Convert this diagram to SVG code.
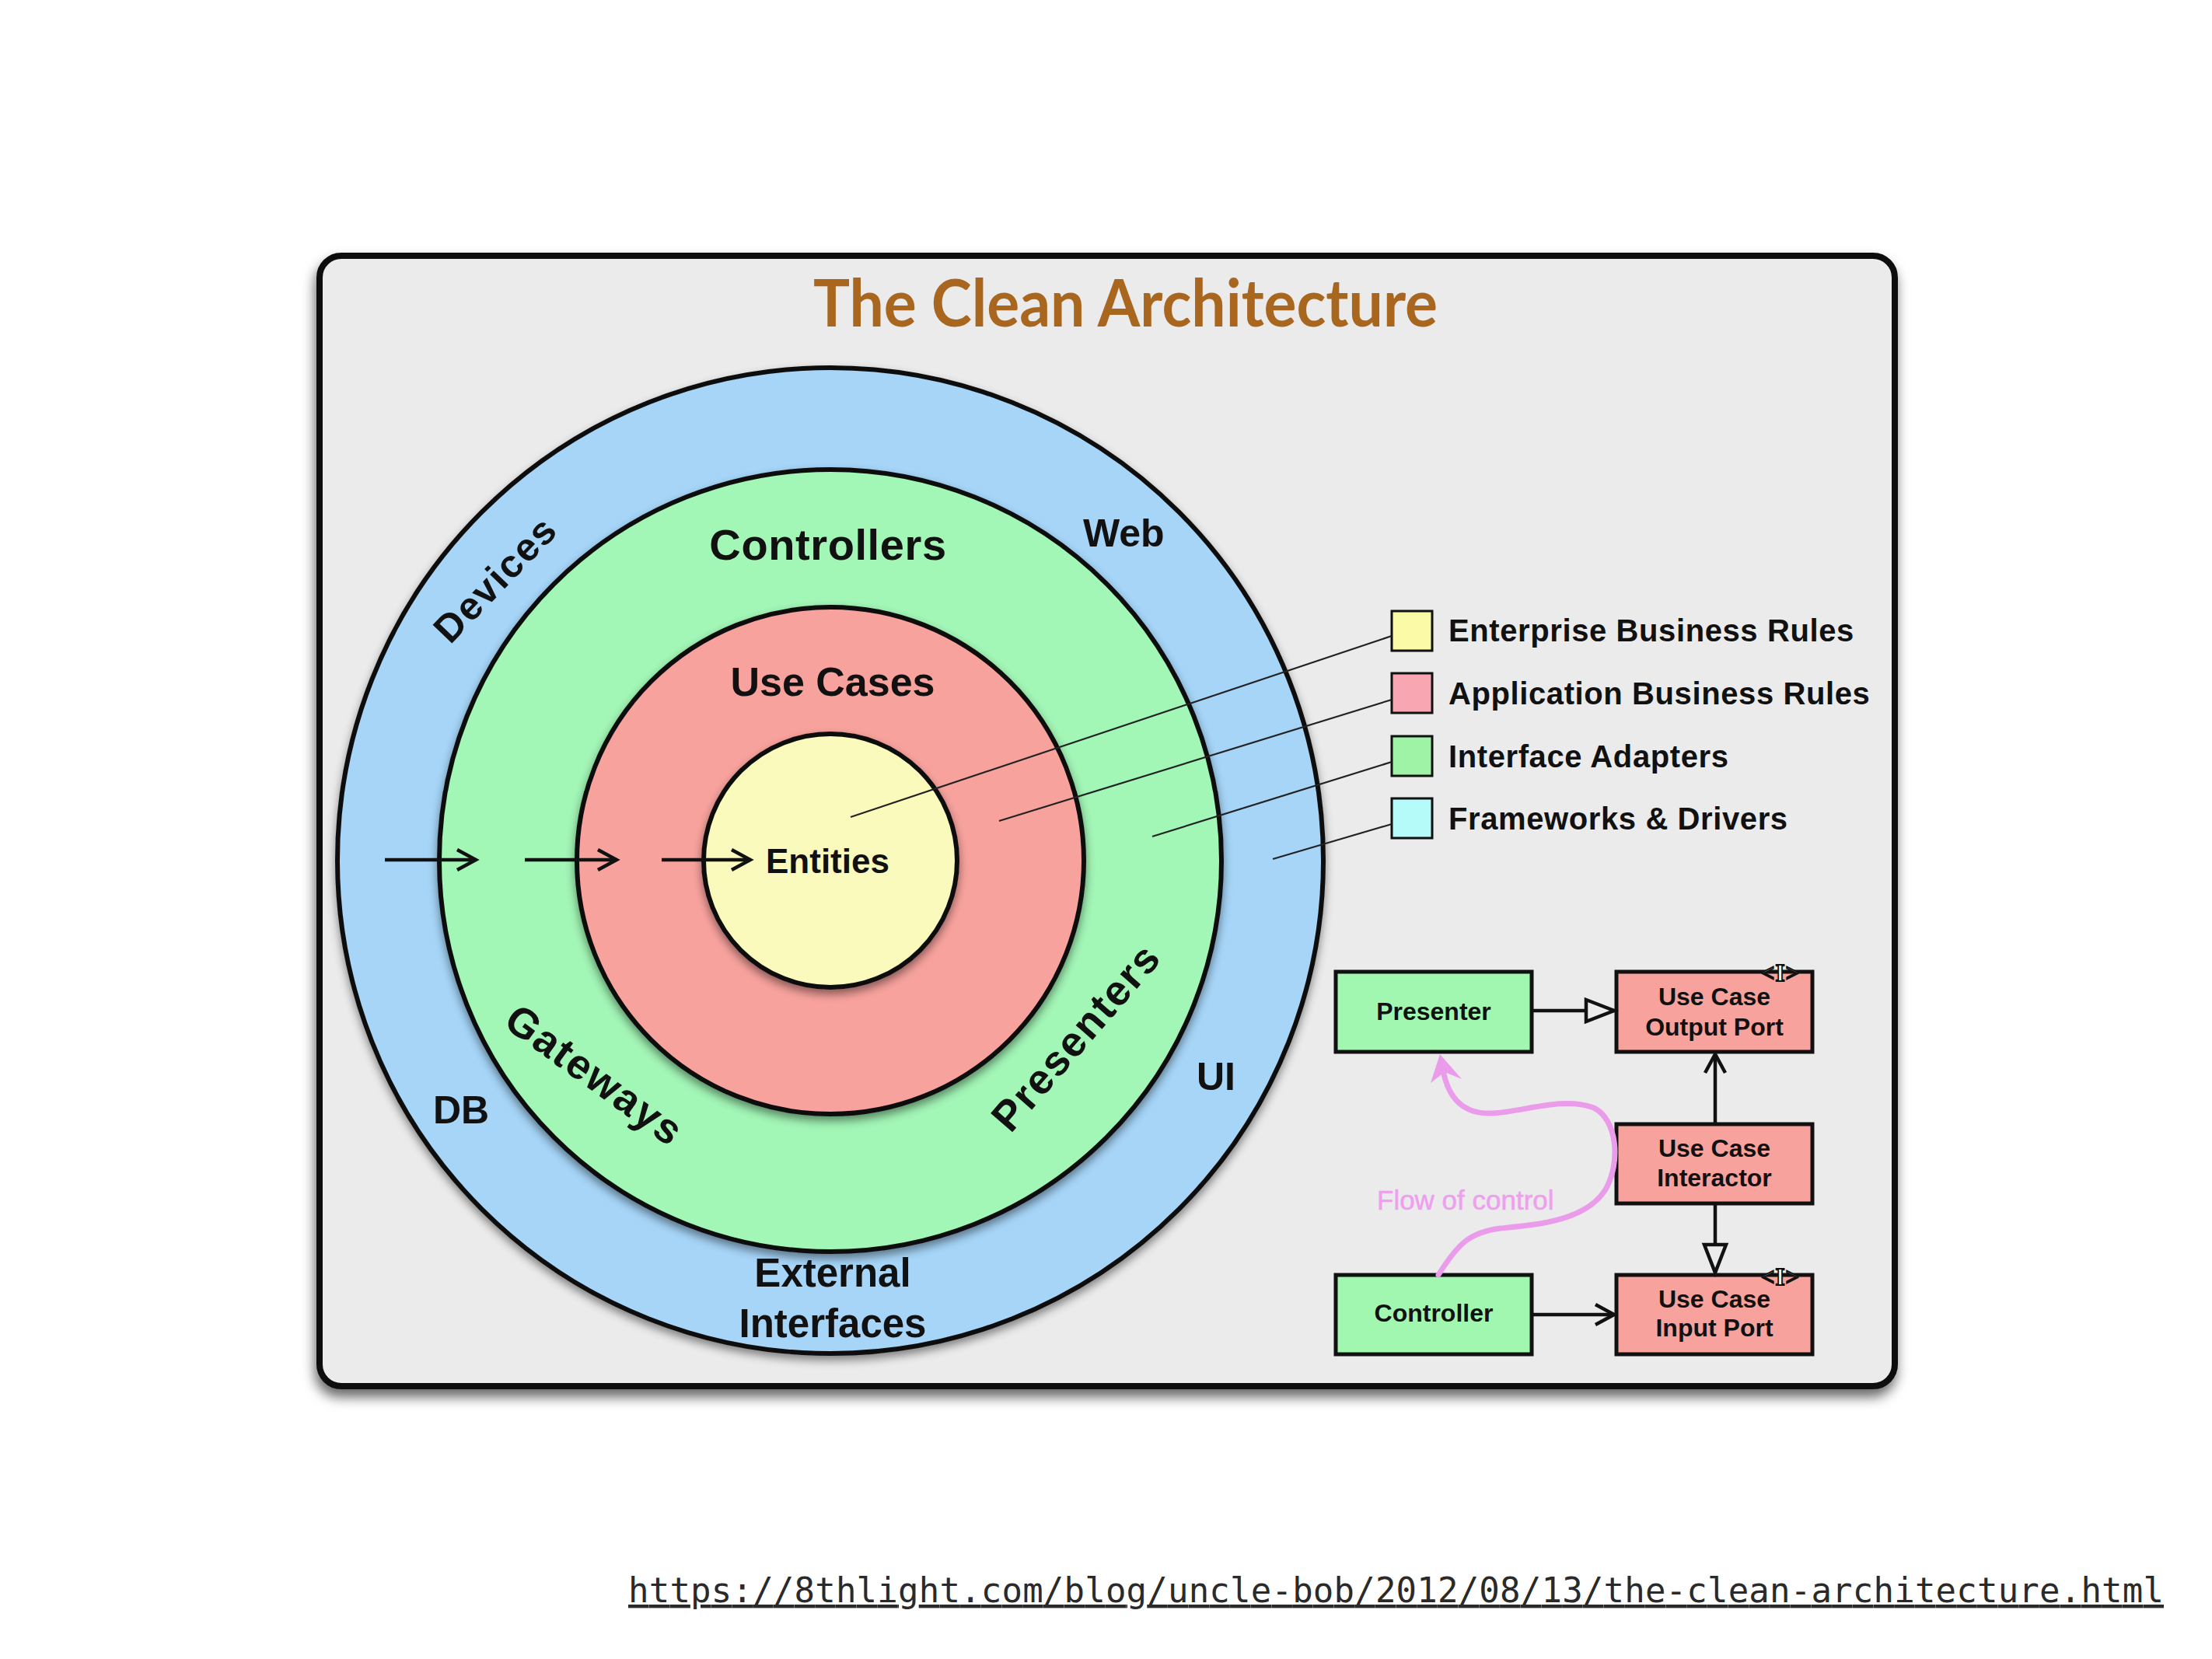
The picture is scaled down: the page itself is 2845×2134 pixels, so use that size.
<svg xmlns="http://www.w3.org/2000/svg" width="2845" height="2134" viewBox="0 0 2845 2134">
<defs>
<style>
.lbl{font-family:"Liberation Sans",Arial,Helvetica,sans-serif;font-weight:bold;fill:#111;}
.ring{font-size:50px;}
.leg{font-size:40px;letter-spacing:0.6px;}
.uml{font-size:32px;text-anchor:middle;}
.circ{stroke:#111;stroke-width:6;filter:url(#sh);}
.box{stroke:#111;stroke-width:5;}
.conn{stroke:#111;stroke-width:4.5;fill:none;}
.lead{stroke:#222;stroke-width:2.2;fill:none;}
.lbox{stroke:#111;stroke-width:3;}
.iface{font-family:"Liberation Serif","Times New Roman",serif;font-weight:bold;font-size:31px;letter-spacing:1px;fill:#fff;stroke:#111;stroke-width:1.8;text-anchor:middle;}
</style>
<filter id="sh" x="-10%" y="-10%" width="120%" height="125%">
<feDropShadow dx="0" dy="6" stdDeviation="6" flood-color="#000" flood-opacity="0.45"/>
</filter>
<filter id="fsh" x="-5%" y="-5%" width="110%" height="112%">
<feDropShadow dx="-2" dy="10" stdDeviation="8" flood-color="#000" flood-opacity="0.6"/>
</filter>
<marker id="openV" markerUnits="userSpaceOnUse" markerWidth="40" markerHeight="40" viewBox="-30 -20 40 40" refX="0" refY="0" orient="auto" overflow="visible">
<path d="M-24,-13 L0,0 L-24,13" fill="none" stroke="#111" stroke-width="4.5"/>
</marker>
<marker id="tri" markerUnits="userSpaceOnUse" markerWidth="46" markerHeight="40" viewBox="-40 -20 46 40" refX="0" refY="0" orient="auto" overflow="visible">
<path d="M-36,-14 L0,0 L-36,14 Z" fill="#ebebeb" stroke="#111" stroke-width="4.5"/>
</marker>
</defs>

<rect x="0" y="0" width="2845" height="2134" fill="#ffffff"/>

<g id="frame">
<rect x="411" y="329" width="2026" height="1454" rx="28" fill="#ebebeb" stroke="#0a0a0a" stroke-width="8" filter="url(#fsh)"/>
<text x="1046" y="420" font-family="Lato,'Open Sans',sans-serif" font-weight="bold" font-size="84" fill="#a9661f" textLength="803" lengthAdjust="spacingAndGlyphs">The Clean Architecture</text>
</g>

<g id="ring-frameworks">
<circle cx="1068" cy="1107" r="634" fill="#a6d5f8" class="circ"/>
<text class="lbl ring" transform="translate(636.5,744.5) rotate(-46)" x="0" y="18" text-anchor="middle" letter-spacing="2">Devices</text>
<text class="lbl ring" x="1393" y="703">Web</text>
<text class="lbl ring" x="1539" y="1402">UI</text>
<text class="lbl ring" x="557" y="1445">DB</text>
<text class="lbl" font-size="51" x="1071" y="1655" text-anchor="middle">External</text>
<text class="lbl" font-size="51" x="1071" y="1720" text-anchor="middle">Interfaces</text>
</g>

<g id="ring-adapters">
<circle cx="1068" cy="1107" r="503" fill="#a2f6b6" class="circ"/>
<text class="lbl" font-size="56" x="1065" y="720" text-anchor="middle" letter-spacing="0.6">Controllers</text>
<text class="lbl" font-size="54" transform="translate(764,1384) rotate(36)" x="0" y="17" text-anchor="middle" letter-spacing="2">Gateways</text>
<text class="lbl" font-size="54" transform="translate(1385,1335) rotate(-49)" x="0" y="17" text-anchor="middle" letter-spacing="2">Presenters</text>
</g>

<g id="ring-usecases">
<circle cx="1068" cy="1107" r="326" fill="#f8a29d" class="circ"/>
<text class="lbl" font-size="52" x="1071" y="895" text-anchor="middle">Use Cases</text>
</g>

<g id="ring-entities">
<circle cx="1068" cy="1107" r="163" fill="#fbfabd" class="circ"/>
<text class="lbl" font-size="44" x="985" y="1123">Entities</text>
</g>

<g id="legend">
<g id="legend-enterprise">
<rect class="lbox" x="1790" y="786" width="52" height="51" fill="#fbfaa6"/>
<text class="lbl leg" x="1863" y="825">Enterprise Business Rules</text>
</g>
<g id="legend-application">
<rect class="lbox" x="1790" y="866" width="52" height="51" fill="#f9a6b3"/>
<text class="lbl leg" x="1863" y="906">Application Business Rules</text>
</g>
<g id="legend-adapters">
<rect class="lbox" x="1790" y="947" width="52" height="51" fill="#9ff3a6"/>
<text class="lbl leg" x="1863" y="987">Interface Adapters</text>
</g>
<g id="legend-frameworks">
<rect class="lbox" x="1790" y="1027" width="52" height="51" fill="#b4fbfa"/>
<text class="lbl leg" x="1863" y="1067">Frameworks &amp; Drivers</text>
</g>
</g>

<g id="presenter">
<rect class="box" x="1718" y="1250" width="252" height="103" fill="#a1f7b0"/>
<text class="lbl uml" x="1844" y="1312">Presenter</text>
</g>
<g id="output-port">
<rect class="box" x="2079" y="1250" width="252" height="103" fill="#f7a29c"/>
<text class="lbl uml" x="2205" y="1293">Use Case</text>
<text class="lbl uml" x="2205" y="1332">Output Port</text>
<text class="iface" x="2290" y="1262">&lt;I&gt;</text>
</g>
<g id="interactor">
<rect class="box" x="2079" y="1446" width="252" height="102" fill="#f7a29c"/>
<text class="lbl uml" x="2205" y="1488">Use Case</text>
<text class="lbl uml" x="2205" y="1526">Interactor</text>
</g>
<g id="controller">
<rect class="box" x="1718" y="1640" width="252" height="102" fill="#a1f7b0"/>
<text class="lbl uml" x="1844" y="1700">Controller</text>
</g>
<g id="input-port">
<rect class="box" x="2079" y="1640" width="252" height="102" fill="#f7a29c"/>
<text class="lbl uml" x="2205" y="1682">Use Case</text>
<text class="lbl uml" x="2205" y="1719">Input Port</text>
<text class="iface" x="2290" y="1653">&lt;I&gt;</text>
</g>

<g id="connectors">
<line class="conn" x1="495" y1="1106" x2="612" y2="1106" marker-end="url(#openV)"/>
<line class="conn" x1="675" y1="1106" x2="793" y2="1106" marker-end="url(#openV)"/>
<line class="conn" x1="851" y1="1106" x2="965" y2="1106" marker-end="url(#openV)"/>
<line class="lead" x1="1094" y1="1051" x2="1790" y2="818"/>
<line class="lead" x1="1285" y1="1056" x2="1790" y2="900"/>
<line class="lead" x1="1482" y1="1076" x2="1790" y2="980"/>
<line class="lead" x1="1637" y1="1105" x2="1790" y2="1060"/>
<line class="conn" x1="1972" y1="1300" x2="2076" y2="1300" marker-end="url(#tri)"/>
<line class="conn" x1="2206" y1="1446" x2="2206" y2="1356" marker-end="url(#openV)"/>
<line class="conn" x1="2206" y1="1548" x2="2206" y2="1637" marker-end="url(#tri)"/>
<line class="conn" x1="1972" y1="1691" x2="2076" y2="1691" marker-end="url(#openV)"/>
<g id="flow-of-control">
<path d="M1850,1640 C1875,1600 1890,1585 1930,1580 C1980,1575 2040,1570 2065,1530 C2085,1495 2080,1440 2050,1425 C2010,1410 1960,1430 1920,1432 C1880,1434 1862,1410 1856,1376" fill="none" stroke="#ea9ceb" stroke-width="7" stroke-linecap="round"/>
<polygon points="1852,1356 1880,1388 1858,1379 1840,1393" fill="#ea9ceb"/>
<text x="1771" y="1556" font-family="'Liberation Sans',Arial,sans-serif" font-size="35" fill="#f09ff0" stroke="#f09ff0" stroke-width="0.6">Flow of control</text>
</g>
</g>

<text x="808" y="2061" font-family="'DejaVu Sans Mono','Liberation Mono',monospace" font-size="44" fill="#2a2a2a" text-decoration="underline" textLength="1975">https://8thlight.com/blog/uncle-bob/2012/08/13/the-clean-architecture.html</text>
</svg>
